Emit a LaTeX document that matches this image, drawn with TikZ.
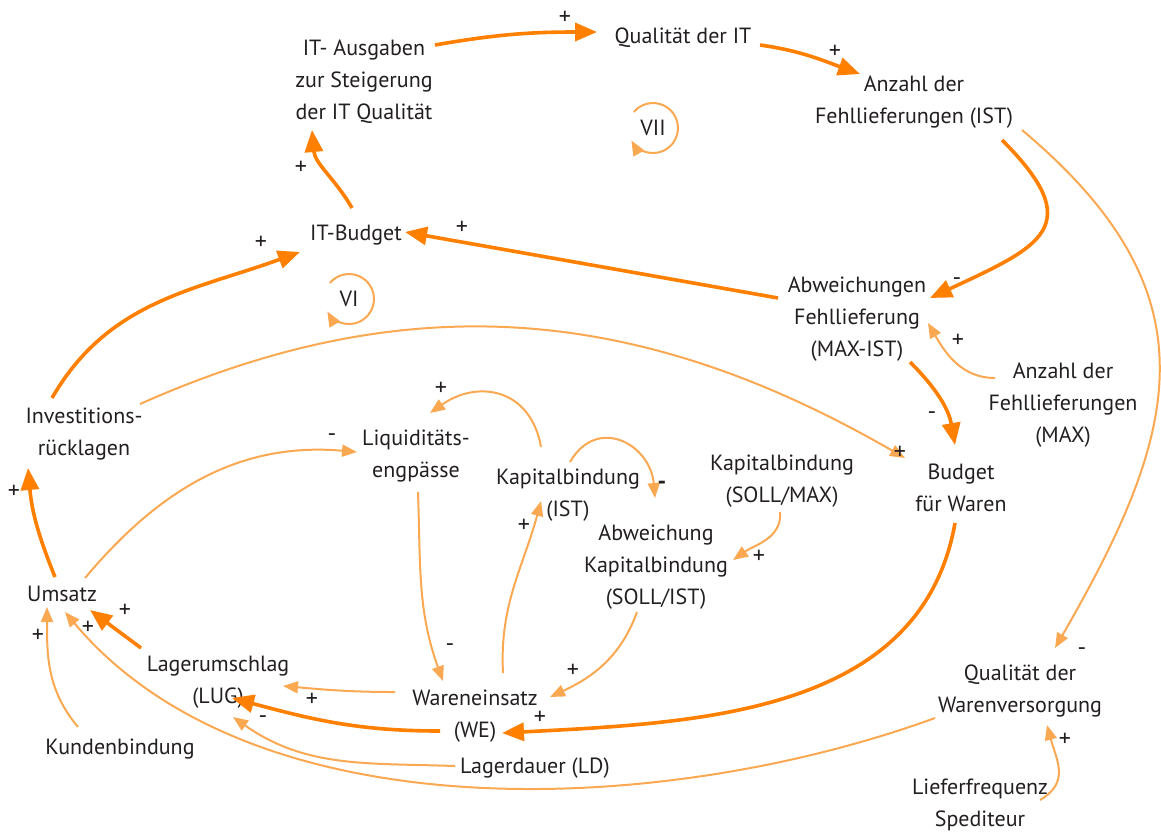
\documentclass[tikz,border=0pt]{standalone}
\usepackage{fontspec}
\setmainfont{PT Sans}
\usetikzlibrary{arrows.meta}
\definecolor{strongc}{RGB}{255,128,0}
\definecolor{weakc}{RGB}{251,168,82}
\definecolor{textc}{RGB}{35,31,32}
\begin{document}
\begin{tikzpicture}[x=1pt, y=1pt,
  main/.style = {align=center, inner sep=2pt, text=textc, font=\fontsize{22}{32}\selectfont},
  sign/.style = {inner sep=0pt, text=textc, font=\fontsize{24}{24}\selectfont},
  strong/.style = {draw=strongc, line width=3.6pt, -{Triangle[length=22pt,width=18pt]}},
  weak/.style = {draw=weakc, line width=2pt, -{Triangle[length=15pt,width=12pt]}}]
\useasboundingbox (0,0) rectangle (1161,-831);
\node[main] (itaus) at (364,-82) {IT- Ausgaben\\zur Steigerung\\der IT Qualität};
\node[main] (qit) at (683,-38) {Qualität der IT};
\node[main] (anzist) at (914,-102) {Anzahl der\\Fehllieferungen (IST)};
\node[main] (vii) at (653,-128) {VII};
\node[main] (itbudget) at (356,-235) {IT-Budget};
\node[main] (vi) at (349,-299) {VI};
\node[main] (abwfehl) at (857,-319) {Abweichungen\\Fehllieferung\\(MAX-IST)};
\node[main] (anzmax) at (1063,-405) {Anzahl der\\Fehllieferungen\\(MAX)};
\node[main] (invest) at (84,-434) {Investitions-\\rücklagen};
\node[main] (liqu) at (416,-456) {Liquiditäts-\\engpässe};
\node[main] (kapist) at (568,-495) {Kapitalbindung\\(IST)};
\node[main] (kapsollmax) at (782,-481) {Kapitalbindung\\(SOLL/MAX)};
\node[main] (budget) at (961,-488) {Budget\\für Waren};
\node[main] (abwkap) at (656,-567) {Abweichung\\Kapitalbindung\\(SOLL/IST)};
\node[main] (umsatz) at (62,-594) {Umsatz};
\node[main] (lug) at (218,-682) {Lagerumschlag\\(LUG)};
\node[main] (wareneinsatz) at (475,-716) {Wareneinsatz\\(WE)};
\node[main] (lagerdauer) at (535,-768) {Lagerdauer (LD)};
\node[main] (kundenbindung) at (120,-749) {Kundenbindung};
\node[main] (qwv) at (1020,-691) {Qualität der\\Warenversorgung};
\node[main] (liefer) at (980,-805) {Lieferfrequenz\\Spediteur};
\draw[strong] ([shift={(71,37)}]itaus.center) to[out=10,in=180] ([shift={(-86,6)}]qit.center);
\draw[strong] ([shift={(77,-7)}]qit.center) to[out=-8,in=160] ([shift={(-54,28)}]anzist.center);
\draw[strong] ([shift={(88,-38)}]anzist.center) to[out=-45,in=25,looseness=1.8] ([shift={(73,21)}]abwfehl.center);
\draw[strong] ([shift={(-79,21)}]abwfehl.center) -- ([shift={(49,3)}]itbudget.center);
\draw[strong] ([shift={(-4,27)}]itbudget.center) to[out=120,in=-85] ([shift={(-52,-48)}]itaus.center);
\draw[strong] ([shift={(-32,36)}]invest.center) to[out=60,in=-160] ([shift={(-56,-17)}]itbudget.center);
\draw[strong] ([shift={(-7,17)}]umsatz.center) to[out=112,in=-85] ([shift={(-56,-34)}]invest.center);
\draw[strong] ([shift={(53,-43)}]abwfehl.center) to[out=-45,in=100] ([shift={(-6,43)}]budget.center);
\draw[strong] ([shift={(-6,-35)}]budget.center) to[out=-100,in=3] ([shift={(27,-17)}]wareneinsatz.center);
\draw[strong] ([shift={(-35,-15)}]wareneinsatz.center) to[out=180,in=-15] ([shift={(14,-16)}]lug.center);
\draw[strong] ([shift={(-77,34)}]lug.center) -- ([shift={(28,-16)}]umsatz.center);
\draw[weak] ([shift={(56,30)}]invest.center) to[out=24,in=150] ([shift={(-56,30)}]budget.center);
\draw[weak] ([shift={(23,16)}]umsatz.center) to[out=50,in=175] ([shift={(-59,4)}]liqu.center);
\draw[weak] ([shift={(-27,48)}]kapist.center) to[out=100,in=35,looseness=1.3] ([shift={(14,43)}]liqu.center);
\draw[weak] ([shift={(2,-36)}]liqu.center) to[out=-88,in=110] ([shift={(-32,35)}]wareneinsatz.center);
\draw[weak] ([shift={(28,43)}]wareneinsatz.center) to[out=93,in=-105] ([shift={(-27,-6)}]kapist.center);
\draw[weak] ([shift={(2,33)}]kapist.center) to[out=60,in=95,looseness=1.5] ([shift={(-1,69)}]abwkap.center);
\draw[weak] ([shift={(-2,-31)}]kapsollmax.center) to[out=-85,in=35] ([shift={(77,7)}]abwkap.center);
\draw[weak] ([shift={(-19,-45)}]abwkap.center) to[out=-110,in=25] ([shift={(75,19)}]wareneinsatz.center);
\draw[weak] ([shift={(-80,24)}]wareneinsatz.center) to[out=180,in=-5] ([shift={(65,-4)}]lug.center);
\draw[weak] ([shift={(-80,2)}]lagerdauer.center) to[out=178,in=-35] ([shift={(15,-35)}]lug.center);
\draw[weak] ([shift={(-85,-27)}]qwv.center) to[out=-160,in=-50,looseness=0.85] ([shift={(3,-18)}]umsatz.center);
\draw[weak] ([shift={(-42,22)}]kundenbindung.center) to[out=130,in=-90] ([shift={(-15,-13)}]umsatz.center);
\draw[weak] ([shift={(108,-28)}]anzist.center) to[out=-40,in=60,looseness=1.25] ([shift={(35,43)}]qwv.center);
\draw[weak] ([shift={(-68,27)}]anzmax.center) to[out=180,in=-60] ([shift={(71,-4)}]abwfehl.center);
\draw[weak] ([shift={(60,5)}]liefer.center) to[out=30,in=-75,looseness=1.2] ([shift={(27,-34)}]qwv.center);
\draw[weak] ([shift={(140:25)}]vii.center) arc[start angle=140, end angle=-150, radius=25];
\draw[weak] ([shift={(140:25)}]vi.center) arc[start angle=140, end angle=-150, radius=25];
\node[sign] (s1) at (565,-18) {+};
\node[sign] (s2) at (835,-52) {+};
\node[sign] (s3) at (957,-282) {-};
\node[sign] (s4) at (462,-228) {+};
\node[sign] (s5) at (301,-168) {+};
\node[sign] (s6) at (261,-243) {+};
\node[sign] (s7) at (14,-492) {+};
\node[sign] (s8) at (932,-416) {-};
\node[sign] (s9) at (540,-718) {+};
\node[sign] (s10) at (312,-700) {+};
\node[sign] (s11) at (125,-611) {+};
\node[sign] (s12) at (900,-453) {+};
\node[sign] (s13) at (332,-438) {-};
\node[sign] (s14) at (441,-389) {+};
\node[sign] (s15) at (450,-648) {-};
\node[sign] (s16) at (524,-526) {+};
\node[sign, font=\fontsize{24}{24}\selectfont\bfseries] (s17) at (662,-485) {-};
\node[sign] (s18) at (759,-557) {+};
\node[sign] (s19) at (573,-671) {+};
\node[sign] (s20) at (263,-720) {-};
\node[sign] (s21) at (88,-628) {+};
\node[sign] (s22) at (38,-636) {+};
\node[sign] (s23) at (1082,-652) {-};
\node[sign] (s24) at (958,-341) {+};
\node[sign] (s25) at (1065,-740) {+};
\end{tikzpicture}
\end{document}
